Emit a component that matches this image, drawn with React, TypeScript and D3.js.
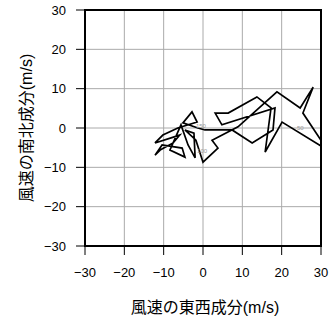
import React from "react";
import * as d3 from "d3";

const xTicks = [-30, -20, -10, 0, 10, 20, 30];
const yTicks = [-30, -20, -10, 0, 10, 20, 30];

// hodograph points (u, v) in m/s
const uWind = [
  30.0, 25.4, 28.0, 24.7, 18.8, 8.9, 2.3, 3.8, 0.0, -1.8, -4.6, -2.3, -2.0, -3.8, -5.6, -8.4, -4.6,
  -5.3, -10.4, -12.2, -10.9, -7.6, -5.9, -12.2, -10.2, -6.4, -1.5, -2.8, -5.1, -1.3, 0.5, 7.4, 12.5,
  17.8, 18.3, 4.8, 3.1, 6.4, 13.7, 17.3, 15.8, 20.1, 30.0
];
const vWind = [
  -3.1, 3.8, 10.4, 5.1, 9.2, 0.3, -3.1, -5.1, -8.7, -3.1, -0.5, -1.3, -7.6, -4.3, 0.8, -5.6, -7.4,
  -5.1, -4.3, -6.9, -5.6, -3.8, -1.8, -3.8, -1.8, 0.0, 1.5, 4.1, 1.3, 0.0, -0.5, -0.5, -3.8,
  -0.5, 5.1, 0.8, 3.8, 3.8, 7.9, 5.1, -6.1, 1.5, -4.6
];
const labelText = ["150", "100", "50"];
const labelU = [-1.8, -1.5, 23.9];
const labelV = [0.0, -6.4, -0.5];

export default function App() {
  const W = 331, H = 318;
  const left = 85, right = 321, top = 10, bottom = 246;
  const x = d3.scaleLinear().domain([-30, 30]).range([left, right]);
  const y = d3.scaleLinear().domain([-30, 30]).range([bottom, top]);
  const pts: [number, number][] = uWind.map((u, i) => [x(u), y(vWind[i])]);
  const line = d3.line();
  const font = "'Liberation Sans', Arial, 'Noto Sans CJK JP', sans-serif";
  const cjk = "'Liberation Sans', 'Noto Sans CJK JP', sans-serif";
  return (
    <svg width={W} height={H} style={{ position: "absolute", left: 0, top: 0, background: "#fff" }}>
      <defs>
        <clipPath id="plot">
          <rect x={left} y={top} width={right - left} height={bottom - top} />
        </clipPath>
      </defs>
      {xTicks.map((t) => (
        <line key={"gx" + t} x1={x(t)} x2={x(t)} y1={top} y2={bottom} stroke="#aaa" strokeWidth={1} />
      ))}
      {yTicks.map((t) => (
        <line key={"gy" + t} x1={left} x2={right} y1={y(t)} y2={y(t)} stroke="#aaa" strokeWidth={1} />
      ))}
      <g clipPath="url(#plot)">
        <path d={line(pts) || ""} fill="none" stroke="#000" strokeWidth={1.7} strokeLinejoin="miter" />
        {labelText.map((t, i) => (
          <text key={t} x={x(labelU[i])} y={y(labelV[i])} fontSize={6} fill="#999" fontFamily={font}>
            {t}
          </text>
        ))}
      </g>
      <rect x={left} y={top} width={right - left} height={bottom - top} fill="none" stroke="#000" strokeWidth={2} />
      {xTicks.map((t) => (
        <g key={"tx" + t}>
          <line x1={x(t)} x2={x(t)} y1={bottom} y2={bottom + 9} stroke="#000" strokeWidth={1} />
          <text x={x(t)} y={277} textAnchor="middle" fontSize={13} fontFamily={font}>
            {t < 0 ? "\u2212" + Math.abs(t) : t}
          </text>
        </g>
      ))}
      {yTicks.map((t) => (
        <g key={"ty" + t}>
          <line x1={left - 9} x2={left} y1={y(t)} y2={y(t)} stroke="#000" strokeWidth={1} />
          <text x={66} y={y(t) + 4.5} textAnchor="end" fontSize={13} fontFamily={font}>
            {t < 0 ? "\u2212" + Math.abs(t) : t}
          </text>
        </g>
      ))}
      <text x={205} y={313} textAnchor="middle" fontSize={16} fontFamily={cjk}>
        風速の東西成分(m/s)
      </text>
      <text transform="translate(32,128) rotate(-90)" textAnchor="middle" fontSize={16} fontFamily={cjk}>
        風速の南北成分(m/s)
      </text>
    </svg>
  );
}
